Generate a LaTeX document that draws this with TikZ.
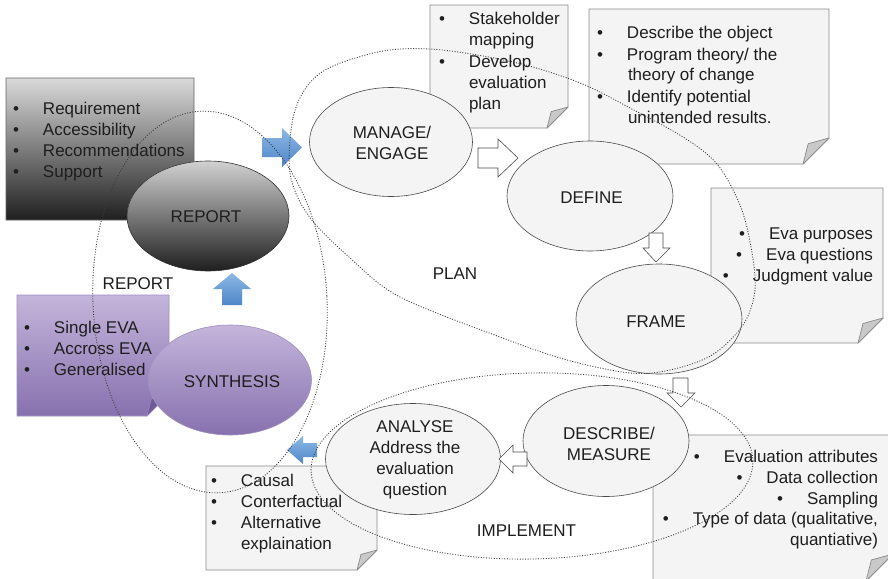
\documentclass[tikz,border=0pt]{standalone}
\usepackage{fontspec}
\setmainfont{Liberation Sans}
\usetikzlibrary{shapes.geometric}

\definecolor{ink}{HTML}{1E1E1E}
\definecolor{notefill}{HTML}{F4F4F4}
\definecolor{noteline}{HTML}{8A8A8A}
\definecolor{foldfill}{HTML}{C9C9C9}
\definecolor{stageline}{HTML}{4A4A4A}
\definecolor{greytop}{HTML}{DADADA}
\definecolor{greybot}{HTML}{1F1F1F}
\definecolor{lilactop}{HTML}{C4B5DB}
\definecolor{lilacbot}{HTML}{8771AE}
\definecolor{lilacline}{HTML}{9F8FC2}
\definecolor{lilacfold}{HTML}{6E5A96}
\definecolor{bluetop}{HTML}{8DB8E6}
\definecolor{bluebot}{HTML}{4E86C7}
\definecolor{phaseline}{HTML}{3C3C3C}

% bullet followed by the item text
\newcommand\bul{\makebox[30pt][l]{\textbullet}}
% note sheet with a folded lower-right corner: style, fold style, left, top, right, bottom, fold size
\newcommand\foldnote[7]{%
  \path[#1] (#3,#4) -- (#5,#4) -- (#5,#6-#7) -- (#5-#7,#6) -- (#3,#6) -- cycle;
  \path[#2] (#5-#7,#6) -- (#5-0.8*#7,#6-0.78*#7) -- (#5,#6-#7) -- cycle;}

\begin{document}
\begin{tikzpicture}[x=1pt,y=-1pt,
  txt/.style={font=\fontsize{17}{21}\selectfont, text=ink, inner sep=0pt, outer sep=0pt},
  item/.style={txt, anchor=base west},
  itemr/.style={txt, anchor=base east},
  stage/.style={ellipse, draw=stageline, line width=0.6pt, fill=notefill, inner sep=0pt,
    minimum width=166pt, minimum height=110pt},
  note/.style={fill=notefill, draw=noteline, line width=0.7pt, line join=round},
  fold/.style={fill=foldfill, draw=noteline, line width=0.7pt, line join=round},
  hollow/.style={fill=white, draw=stageline, line width=0.6pt},
  bluearrow/.style={top color=bluetop, bottom color=bluebot, draw=none},
  phase/.style={draw=phaseline, line width=0.85pt, dash pattern=on 1pt off 1.6pt},
]
\fill[white] (0,0) rectangle (888,578);
\useasboundingbox (0,0) rectangle (888,578);

% ---- note sheets ----
\foldnote{top color=greytop, bottom color=greybot, draw=black!60, line width=0.6pt}{fill=black!70}{6}{78}{194}{220}{22}
\foldnote{top color=lilactop, bottom color=lilacbot, draw=lilacline, line width=0.6pt}{fill=lilacfold, draw=lilacline}{17}{295}{169}{416}{22}
\foldnote{note}{fold}{430}{5}{568}{128}{21}
\foldnote{note}{fold}{589}{9}{829}{164}{26}
\foldnote{note}{fold}{711}{188}{883}{343}{25}
\begin{scope}
  \clip (0,0) rectangle (888,578);
  \foldnote{note}{fold}{653}{435}{893}{581}{27}
\end{scope}
\foldnote{note}{fold}{206}{466}{377}{570}{20}

% ---- stages ----
\node[stage, top color=black!18, bottom color=black!88, draw=black!80,
      minimum width=162pt] (report) at (208,216) {};
\node[stage, top color=lilactop, bottom color=lilacbot, draw=lilacline,
      minimum width=163pt] (synthesis) at (230,380) {};
\node[stage, minimum width=163pt, minimum height=109pt] (manage) at (391,142) {};
\node[stage] (define) at (590,196) {};
\node[stage] (frame) at (659,319) {};
\node[stage, minimum height=111pt] (describe) at (606,441) {};
\node[stage, minimum width=175pt, minimum height=111pt] (analyse) at (413,459) {};

% ---- block arrows ----
\path[bluearrow] (262,138) -- (282,138) -- (282,128) -- (302,147.5) -- (282,167) -- (282,157) -- (262,157) -- cycle;
\path[bluearrow] (222,305) -- (222,289) -- (213,289) -- (232,273) -- (251,289) -- (242,289) -- (242,305) -- cycle;
\path[bluearrow] (317,443) -- (303,443) -- (303,436) -- (287,450) -- (303,464) -- (303,457) -- (317,457) -- cycle;
\path[hollow] (478,148) -- (498,148) -- (498,139) -- (518,158) -- (498,177) -- (498,168) -- (478,168) -- cycle;
\path[hollow] (649,233) -- (663,233) -- (663,248) -- (670,248) -- (656,262) -- (643,248) -- (649,248) -- cycle;
\path[hollow] (673,378) -- (688,378) -- (688,393) -- (695,393) -- (681,407) -- (667,393) -- (673,393) -- cycle;
\path[hollow] (527,452) -- (513,452) -- (513,445) -- (499,459) -- (513,473) -- (513,466) -- (527,466) -- cycle;

% ---- stage names ----
\node[txt] (report-t) at (206,216.5) {REPORT};
\node[txt] (synthesis-t) at (232,381.5) {SYNTHESIS};
\node[txt, align=center] (manage-t) at (392,143) {MANAGE/\\ENGAGE};
\node[txt] (define-t) at (591.5,198) {DEFINE};
\node[txt] (frame-t) at (656,321.5) {FRAME};
\node[txt, align=center] (describe-t) at (609,444) {DESCRIBE/\\MEASURE};
\node[txt, align=center] (analyse-t) at (415,459.5) {ANALYSE\\Address the\\evaluation\\question};

% ---- note texts ----
\node[item] (req1) at (13,114) {\bul Requirement};
\node[item] (req2) at (13,135) {\bul Accessibility};
\node[item] (req3) at (13,156) {\bul Recommendations};
\node[item] (req4) at (13,177) {\bul Support};

\node[item] (syn1) at (24,333) {\bul Single EVA};
\node[item] (syn2) at (24,354) {\bul Accross EVA};
\node[item] (syn3) at (24,375) {\bul Generalised};

\node[item] (stk1) at (439,25) {\bul Stakeholder};
\node[item] (stk2) at (469,46) {mapping};
\node[item] (stk3) at (439,67) {\bul Develop};
\node[item] (stk4) at (469,88) {evaluation};
\node[item] (stk5) at (469,109) {plan};

\node[item] (def1) at (597,39) {\bul Describe the object};
\node[item] (def2) at (597,60) {\bul Program theory/ the};
\node[item] (def3) at (628,81) {theory of change};
\node[item] (def4) at (597,102) {\bul Identify potential};
\node[item] (def5) at (628,123) {unintended results.};

\node[itemr] (frm1) at (873,239) {\bul Eva purposes};
\node[itemr] (frm2) at (873,260) {\bul Eva questions};
\node[itemr] (frm3) at (873,281) {\bul Judgment value};

\node[itemr] (mea1) at (878,462) {\bul Evaluation attributes};
\node[itemr] (mea2) at (878,483) {\bul Data collection};
\node[itemr] (mea3) at (878,504) {\bul Sampling};
\node[itemr] (mea4) at (878,524) {\bul Type of data (qualitative,};
\node[itemr] (mea5) at (878,545) {quantiative)};

\node[item] (ana1) at (211,486) {\bul Causal};
\node[item] (ana2) at (211,507) {\bul Conterfactual};
\node[item] (ana3) at (211,528) {\bul Alternative};
\node[item] (ana4) at (241,549) {explaination};

% ---- phase labels ----
\node[txt] (plan-l) at (455,274) {PLAN};
\node[txt] (implement-l) at (526.5,530.5) {IMPLEMENT};
\node[txt] (report-l) at (138,283.5) {REPORT};

% ---- phase outlines ----
\draw[phase, rotate around={3:(210,302)}] (210,302) ellipse [x radius=117pt, y radius=191pt];
\draw[phase] plot[smooth cycle, tension=0.55] coordinates {
  (290,173) (293,118) (308,85) (333,66) (383,51) (430,49) (483,56) (533,67)
  (585,85) (630,108) (683,137) (717,164) (740,205) (751,247) (755,290)
  (743,325) (712,355) (670,370) (630,373) (567,360) (500,337) (400,297)
  (350,258) (308,215)};
\draw[phase, rotate around={1.3:(532,466)}] (532,466) ellipse [x radius=221pt, y radius=93pt];
\end{tikzpicture}
\end{document}
